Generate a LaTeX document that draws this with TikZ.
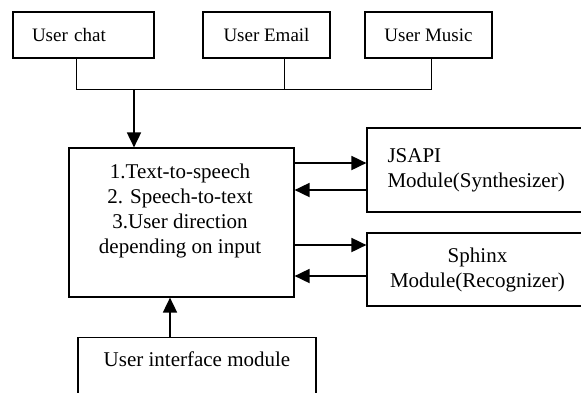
\documentclass[tikz,border=0pt]{standalone}
\usepackage{fontspec}
\setmainfont{Liberation Serif}
\usetikzlibrary{arrows.meta}

\begin{document}
\begin{tikzpicture}[x=1pt, y=-1pt,
    box/.style={draw, line width=1.2pt, font=\fontsize{21}{25}\selectfont},
    topbox/.style={box, minimum height=46pt, font=\fontsize{19}{23}\selectfont},
    arr/.style={line width=1.8pt, -{Triangle[length=15pt, width=14pt]}}]

    \useasboundingbox (0, 0) rectangle (581, 392);
    \clip (0, 0) rectangle (581, 392);

    \node[topbox, text width=103pt, inner xsep=19pt, align=left] (chat) at (83.5, 35) {User chat};
    \node[topbox, minimum width=127pt] (email) at (266.5, 35) {User Email};
    \node[topbox, minimum width=127pt] (music) at (428.5, 35) {User Music};

    \coordinate (j0) at (134, 89);
    \coordinate (j1) at (76, 89);
    \coordinate (j2) at (284, 89);
    \coordinate (j3) at (431, 89);

    \node[box, minimum width=225pt, minimum height=149pt] (main) at (181.5, 222.5) {};
    \node[font=\fontsize{21}{25}\selectfont, align=center, anchor=north, inner sep=0pt] (maintxt) at (180, 164) {1.Text-to-speech\\ 2. Speech-to-text\\ 3.User direction\\ depending on input};

    \node[box, text width=180pt, inner xsep=20.5pt, minimum height=84pt, align=left] (jsapi) at (477.5, 170) {JSAPI\\ Module(Synthesizer)};
    \node[box, text width=180pt, inner xsep=20.5pt, minimum height=73pt, align=center] (sphinx) at (477.5, 269.5) {Sphinx\\ Module(Recognizer)};

    \node[box, anchor=north, minimum width=238pt, text height=15pt, text depth=30pt, inner ysep=14pt] (ui) at (197, 337) {User interface module};

    \draw[line width=1pt] (j1 |- chat.south) -- (j1) -- (j3) -- (j3 |- music.south);
    \draw[line width=1pt] (j2 |- email.south) -- (j2);
    \draw[arr] (j0) -- (j0 |- main.north);

    \draw[arr] ([yshift=7pt]main.east |- jsapi.west) -- ([yshift=7pt]jsapi.west);
    \draw[arr] ([yshift=-20pt]jsapi.west) -- ([yshift=-20pt]main.east |- jsapi.west);
    \draw[arr] ([yshift=24.5pt]main.east |- sphinx.west) -- ([yshift=24.5pt]sphinx.west);
    \draw[arr] ([yshift=-6.5pt]sphinx.west) -- ([yshift=-6.5pt]main.east |- sphinx.west);

    \draw[arr] ([xshift=-11.5pt]main.south |- ui.north) -- ([xshift=-11.5pt]main.south);

\end{tikzpicture}
\end{document}
